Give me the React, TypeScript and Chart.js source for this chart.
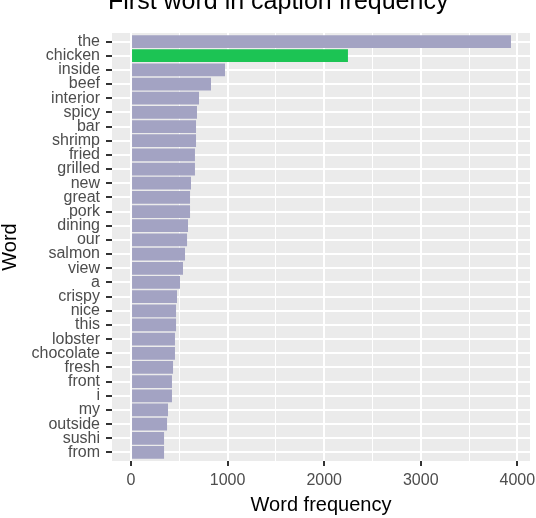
import React, { useEffect, useRef } from "react";
import { Chart, registerables } from "chart.js";

Chart.register(...registerables);

const TITLE = "First word in caption frequency";
const X_TITLE = "Word frequency";
const Y_TITLE = "Word";

const words = [
  "the", "chicken", "inside", "beef", "interior", "spicy", "bar", "shrimp", "fried", "grilled",
  "new", "great", "pork", "dining", "our", "salmon", "view", "a", "crispy", "nice",
  "this", "lobster", "chocolate", "fresh", "front", "i", "my", "outside", "sushi", "from",
];
const counts = [
  3934, 2246, 973, 828, 704, 683, 673, 673, 662, 662,
  621, 611, 611, 590, 580, 559, 538, 507, 476, 466,
  466, 455, 455, 435, 424, 424, 383, 373, 342, 342,
];
const highlightWord = "chicken";
const xTickValues = [0, 500, 1000, 1500, 2000, 2500, 3000, 3500, 4000];
const xMajorStep = 1000;

const FONT = "'Liberation Sans', Arial, Helvetica, sans-serif";
const BAR = "#A3A3C3";
const HIGHLIGHT = "#1CC454";
const PANEL = "#EBEBEB";

export default function App() {
  const ref = useRef<HTMLCanvasElement>(null);

  useEffect(() => {
    const canvas = ref.current;
    if (!canvas) return;

    const panelPlugin = {
      id: "panelBg",
      beforeDraw(chart: any) {
        const { ctx, chartArea: a } = chart;
        ctx.save();
        ctx.fillStyle = "#FFFFFF";
        ctx.fillRect(0, 0, chart.width, chart.height);
        ctx.fillStyle = PANEL;
        ctx.fillRect(a.left, a.top, a.right - a.left, a.bottom - a.top);
        ctx.restore();
      },
    };

    const titlePlugin = {
      id: "ggTitle",
      afterDraw(chart: any) {
        const { ctx, chartArea: a } = chart;
        ctx.save();
        ctx.font = `25px ${FONT}`;
        ctx.fillStyle = "#000000";
        ctx.textAlign = "left";
        ctx.textBaseline = "alphabetic";
        ctx.fillText(TITLE, a.left - 4, 8.5);
        ctx.restore();
      },
    };

    const chart = new Chart(canvas, {
      type: "bar",
      data: {
        datasets: [
          {
            data: words.map((w, i) => ({ x: counts[i], y: i })) as any,
            backgroundColor: words.map((w) => (w === highlightWord ? HIGHLIGHT : BAR)),
            borderWidth: 0,
            barPercentage: 0.9,
            categoryPercentage: 1,
          },
        ],
      },
      options: {
        indexAxis: "y",
        responsive: false,
        animation: false,
        devicePixelRatio: 1,
        layout: { padding: { left: 0, top: 33, right: 6, bottom: 0 } },
        plugins: {
          legend: { display: false },
          tooltip: { enabled: false },
          title: { display: false },
        },
        scales: {
          x: {
            type: "linear",
            position: "bottom",
            offset: false,
            min: -197,
            max: 4131,
            afterBuildTicks: (s: any) => {
              s.ticks = xTickValues.map((v) => ({ value: v }));
            },
            afterFit: (s: any) => {
              s.height = 57;
              s.paddingLeft = 0;
              s.paddingRight = 0;
            },
            border: { display: false },
            grid: {
              offset: false,
              color: "#FFFFFF",
              lineWidth: (c: any) => (c.tick && c.tick.value % xMajorStep === 0 ? 2 : 1),
              drawTicks: true,
              tickLength: 5,
              tickWidth: 2,
              tickColor: (c: any) =>
                c.tick && c.tick.value % xMajorStep === 0 ? "#333333" : "rgba(0,0,0,0)",
            },
            ticks: {
              autoSkip: false,
              maxRotation: 0,
              padding: 5,
              color: "#4D4D4D",
              font: { family: FONT, size: 16 },
              callback: (v: any) => (Number(v) % xMajorStep === 0 ? String(v) : ""),
            },
            title: {
              display: true,
              text: X_TITLE,
              color: "#000000",
              font: { family: FONT, size: 20, lineHeight: 1 },
              padding: { top: 0, bottom: 2.5 },
            },
          },
          y: {
            type: "linear",
            position: "left",
            reverse: true,
            offset: false,
            min: -0.6,
            max: words.length - 0.4,
            afterBuildTicks: (s: any) => {
              s.ticks = words.map((_, i) => ({ value: i }));
            },
            afterFit: (s: any) => {
              s.width = 112;
              s.paddingTop = 0;
              s.paddingBottom = 0;
            },
            border: { display: false },
            grid: {
              offset: false,
              color: "#FFFFFF",
              lineWidth: 2,
              drawTicks: true,
              tickLength: 6,
              tickWidth: 2,
              tickColor: "#333333",
            },
            ticks: {
              autoSkip: false,
              padding: 6,
              color: "#4D4D4D",
              font: { family: FONT, size: 16 },
              callback: (v: any) => words[Number(v)] ?? "",
            },
            title: {
              display: true,
              text: Y_TITLE,
              color: "#000000",
              font: { family: FONT, size: 20, lineHeight: 1 },
              padding: { top: 0, bottom: 0 },
            },
          },
        },
      } as any,
      plugins: [panelPlugin, titlePlugin],
    });

    return () => chart.destroy();
  }, []);

  return (
    <div style={{ position: "fixed", left: 0, top: 0, width: 536, height: 518, background: "#FFFFFF" }}>
      <canvas ref={ref} width={536} height={518} style={{ width: 536, height: 518, display: "block" }} />
    </div>
  );
}
